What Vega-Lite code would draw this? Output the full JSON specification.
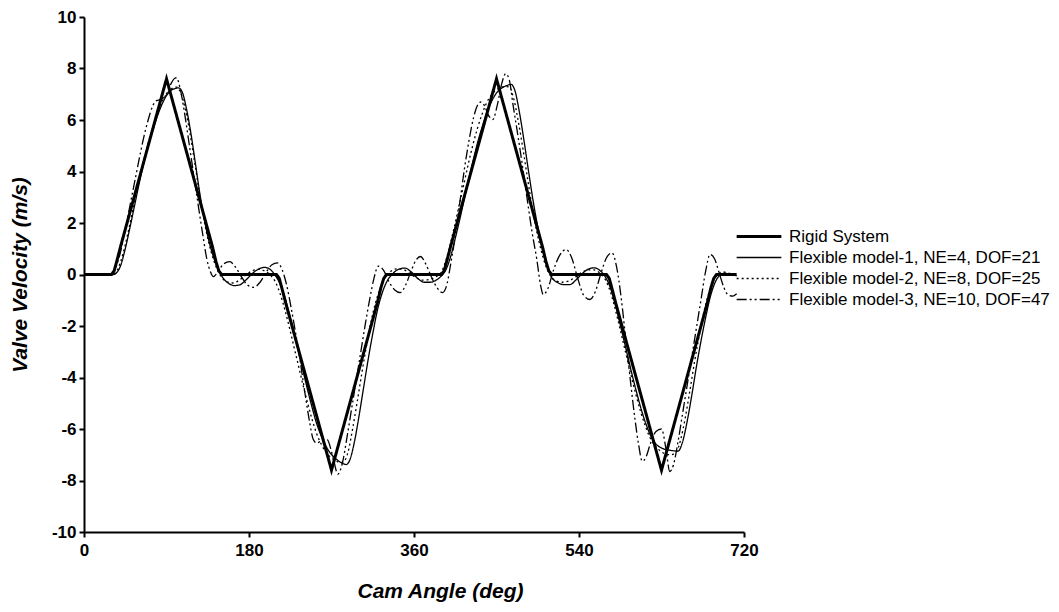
{
"$schema":"https://vega.github.io/schema/vega-lite/v6.json",
"width":660,"height":515,
"autosize":{"type":"none"},
"padding":{"left":84,"top":17,"right":315,"bottom":80},
"background":"white",
"datasets":{"d":[
{"a":0,"v":0,"s":"R"},{"a":30,"v":0,"s":"R"},{"a":33,"v":0.15,"s":"R"},{"a":36,"v":0.55,"s":"R"},{"a":40,"v":1.1,"s":"R"},{"a":90,"v":7.6,"s":"R"},{"a":140,"v":1.1,"s":"R"},{"a":144,"v":0.5,"s":"R"},{"a":147,"v":0.15,"s":"R"},{"a":150,"v":0,"s":"R"},{"a":210,"v":0,"s":"R"},{"a":213,"v":-0.15,"s":"R"},{"a":216,"v":-0.55,"s":"R"},{"a":220,"v":-1.1,"s":"R"},{"a":270,"v":-7.6,"s":"R"},{"a":320,"v":-1.1,"s":"R"},{"a":324,"v":-0.5,"s":"R"},{"a":327,"v":-0.15,"s":"R"},{"a":330,"v":0,"s":"R"},{"a":390,"v":0,"s":"R"},{"a":393,"v":0.15,"s":"R"},{"a":396,"v":0.55,"s":"R"},{"a":400,"v":1.1,"s":"R"},{"a":450,"v":7.6,"s":"R"},{"a":500,"v":1.1,"s":"R"},{"a":504,"v":0.5,"s":"R"},{"a":507,"v":0.15,"s":"R"},{"a":510,"v":0,"s":"R"},{"a":570,"v":0,"s":"R"},{"a":573,"v":-0.15,"s":"R"},{"a":576,"v":-0.55,"s":"R"},{"a":580,"v":-1.1,"s":"R"},{"a":630,"v":-7.6,"s":"R"},{"a":680,"v":-1.1,"s":"R"},{"a":684,"v":-0.5,"s":"R"},{"a":687,"v":-0.15,"s":"R"},{"a":690,"v":0,"s":"R"},{"a":712,"v":0,"s":"R"},

{"a":0,"v":0,"s":"F1"},{"a":32,"v":0,"s":"F1"},{"a":35,"v":0.05,"s":"F1"},{"a":40,"v":0.35,"s":"F1"},{"a":45,"v":1.0,"s":"F1"},{"a":50,"v":1.8,"s":"F1"},{"a":55,"v":2.65,"s":"F1"},{"a":60,"v":3.5,"s":"F1"},{"a":65,"v":4.3,"s":"F1"},{"a":70,"v":5.0,"s":"F1"},{"a":75,"v":5.6,"s":"F1"},{"a":80,"v":6.15,"s":"F1"},{"a":85,"v":6.6,"s":"F1"},{"a":90,"v":6.95,"s":"F1"},{"a":95,"v":7.15,"s":"F1"},{"a":100,"v":7.23,"s":"F1"},{"a":103,"v":7.25,"s":"F1"},{"a":107,"v":7.1,"s":"F1"},{"a":112,"v":6.4,"s":"F1"},{"a":117,"v":5.4,"s":"F1"},{"a":122,"v":4.2,"s":"F1"},{"a":127,"v":3.0,"s":"F1"},{"a":132,"v":2.0,"s":"F1"},{"a":137,"v":1.2,"s":"F1"},{"a":142,"v":0.6,"s":"F1"},{"a":147,"v":0.15,"s":"F1"},{"a":152,"v":-0.15,"s":"F1"},{"a":158,"v":-0.35,"s":"F1"},{"a":164,"v":-0.43,"s":"F1"},{"a":170,"v":-0.4,"s":"F1"},{"a":177,"v":-0.2,"s":"F1"},{"a":184,"v":0.05,"s":"F1"},{"a":190,"v":0.2,"s":"F1"},{"a":197,"v":0.28,"s":"F1"},{"a":203,"v":0.2,"s":"F1"},{"a":208,"v":0.0,"s":"F1"},{"a":213,"v":-0.3,"s":"F1"},{"a":218,"v":-0.75,"s":"F1"},{"a":223,"v":-1.4,"s":"F1"},{"a":228,"v":-2.1,"s":"F1"},{"a":233,"v":-2.85,"s":"F1"},{"a":238,"v":-3.6,"s":"F1"},{"a":243,"v":-4.35,"s":"F1"},{"a":248,"v":-5.05,"s":"F1"},{"a":253,"v":-5.7,"s":"F1"},{"a":258,"v":-6.2,"s":"F1"},{"a":263,"v":-6.6,"s":"F1"},{"a":268,"v":-6.9,"s":"F1"},{"a":273,"v":-7.1,"s":"F1"},{"a":278,"v":-7.25,"s":"F1"},{"a":283,"v":-7.35,"s":"F1"},{"a":286,"v":-7.38,"s":"F1"},{"a":290,"v":-7.2,"s":"F1"},{"a":295,"v":-6.5,"s":"F1"},{"a":300,"v":-5.5,"s":"F1"},{"a":305,"v":-4.4,"s":"F1"},{"a":310,"v":-3.3,"s":"F1"},{"a":315,"v":-2.3,"s":"F1"},{"a":320,"v":-1.4,"s":"F1"},{"a":325,"v":-0.75,"s":"F1"},{"a":330,"v":-0.3,"s":"F1"},{"a":336,"v":0.0,"s":"F1"},{"a":343,"v":0.2,"s":"F1"},{"a":350,"v":0.25,"s":"F1"},{"a":357,"v":0.1,"s":"F1"},{"a":364,"v":-0.15,"s":"F1"},{"a":371,"v":-0.3,"s":"F1"},{"a":378,"v":-0.3,"s":"F1"},{"a":385,"v":-0.2,"s":"F1"},{"a":390,"v":-0.05,"s":"F1"},{"a":395,"v":0.2,"s":"F1"},{"a":400,"v":0.7,"s":"F1"},{"a":405,"v":1.4,"s":"F1"},{"a":410,"v":2.15,"s":"F1"},{"a":415,"v":2.95,"s":"F1"},{"a":420,"v":3.75,"s":"F1"},{"a":425,"v":4.5,"s":"F1"},{"a":430,"v":5.2,"s":"F1"},{"a":435,"v":5.8,"s":"F1"},{"a":440,"v":6.35,"s":"F1"},{"a":445,"v":6.75,"s":"F1"},{"a":450,"v":7.05,"s":"F1"},{"a":455,"v":7.22,"s":"F1"},{"a":460,"v":7.32,"s":"F1"},{"a":466,"v":7.38,"s":"F1"},{"a":470,"v":7.15,"s":"F1"},{"a":475,"v":6.3,"s":"F1"},{"a":480,"v":5.2,"s":"F1"},{"a":485,"v":4.0,"s":"F1"},{"a":490,"v":2.85,"s":"F1"},{"a":495,"v":1.85,"s":"F1"},{"a":500,"v":1.0,"s":"F1"},{"a":505,"v":0.35,"s":"F1"},{"a":510,"v":-0.1,"s":"F1"},{"a":516,"v":-0.3,"s":"F1"},{"a":523,"v":-0.39,"s":"F1"},{"a":530,"v":-0.39,"s":"F1"},{"a":537,"v":-0.2,"s":"F1"},{"a":544,"v":0.05,"s":"F1"},{"a":551,"v":0.22,"s":"F1"},{"a":557,"v":0.26,"s":"F1"},{"a":563,"v":0.15,"s":"F1"},{"a":568,"v":-0.05,"s":"F1"},{"a":573,"v":-0.4,"s":"F1"},{"a":578,"v":-0.95,"s":"F1"},{"a":583,"v":-1.65,"s":"F1"},{"a":588,"v":-2.4,"s":"F1"},{"a":593,"v":-3.15,"s":"F1"},{"a":598,"v":-3.9,"s":"F1"},{"a":603,"v":-4.6,"s":"F1"},{"a":608,"v":-5.25,"s":"F1"},{"a":613,"v":-5.8,"s":"F1"},{"a":618,"v":-6.25,"s":"F1"},{"a":623,"v":-6.55,"s":"F1"},{"a":628,"v":-6.7,"s":"F1"},{"a":633,"v":-6.78,"s":"F1"},{"a":640,"v":-6.83,"s":"F1"},{"a":648,"v":-6.86,"s":"F1"},{"a":653,"v":-6.5,"s":"F1"},{"a":658,"v":-5.7,"s":"F1"},{"a":663,"v":-4.7,"s":"F1"},{"a":668,"v":-3.6,"s":"F1"},{"a":673,"v":-2.6,"s":"F1"},{"a":678,"v":-1.7,"s":"F1"},{"a":683,"v":-0.9,"s":"F1"},{"a":688,"v":-0.35,"s":"F1"},{"a":693,"v":-0.05,"s":"F1"},{"a":699,"v":0.05,"s":"F1"},{"a":705,"v":0.0,"s":"F1"},{"a":712,"v":-0.05,"s":"F1"},

{"a":0,"v":0,"s":"F2"},{"a":30,"v":0,"s":"F2"},{"a":35,"v":0.1,"s":"F2"},{"a":40,"v":0.5,"s":"F2"},{"a":45,"v":1.15,"s":"F2"},{"a":50,"v":1.95,"s":"F2"},{"a":55,"v":2.8,"s":"F2"},{"a":60,"v":3.6,"s":"F2"},{"a":65,"v":4.4,"s":"F2"},{"a":70,"v":5.1,"s":"F2"},{"a":75,"v":5.7,"s":"F2"},{"a":80,"v":6.25,"s":"F2"},{"a":85,"v":6.7,"s":"F2"},{"a":90,"v":7.0,"s":"F2"},{"a":95,"v":7.2,"s":"F2"},{"a":101,"v":7.28,"s":"F2"},{"a":106,"v":7.0,"s":"F2"},{"a":111,"v":6.35,"s":"F2"},{"a":116,"v":5.4,"s":"F2"},{"a":121,"v":4.3,"s":"F2"},{"a":126,"v":3.15,"s":"F2"},{"a":131,"v":2.1,"s":"F2"},{"a":136,"v":1.25,"s":"F2"},{"a":141,"v":0.6,"s":"F2"},{"a":146,"v":0.15,"s":"F2"},{"a":151,"v":-0.15,"s":"F2"},{"a":157,"v":-0.3,"s":"F2"},{"a":163,"v":-0.33,"s":"F2"},{"a":170,"v":-0.2,"s":"F2"},{"a":177,"v":0.0,"s":"F2"},{"a":184,"v":0.15,"s":"F2"},{"a":191,"v":0.2,"s":"F2"},{"a":198,"v":0.12,"s":"F2"},{"a":204,"v":-0.05,"s":"F2"},{"a":209,"v":-0.3,"s":"F2"},{"a":214,"v":-0.75,"s":"F2"},{"a":219,"v":-1.35,"s":"F2"},{"a":224,"v":-2.05,"s":"F2"},{"a":229,"v":-2.8,"s":"F2"},{"a":234,"v":-3.55,"s":"F2"},{"a":239,"v":-4.3,"s":"F2"},{"a":244,"v":-5.0,"s":"F2"},{"a":249,"v":-5.65,"s":"F2"},{"a":254,"v":-6.2,"s":"F2"},{"a":259,"v":-6.6,"s":"F2"},{"a":264,"v":-6.9,"s":"F2"},{"a":269,"v":-7.1,"s":"F2"},{"a":274,"v":-7.22,"s":"F2"},{"a":279,"v":-7.3,"s":"F2"},{"a":283,"v":-7.28,"s":"F2"},{"a":288,"v":-6.9,"s":"F2"},{"a":293,"v":-6.0,"s":"F2"},{"a":298,"v":-4.95,"s":"F2"},{"a":303,"v":-3.85,"s":"F2"},{"a":308,"v":-2.8,"s":"F2"},{"a":313,"v":-1.85,"s":"F2"},{"a":318,"v":-1.1,"s":"F2"},{"a":323,"v":-0.55,"s":"F2"},{"a":328,"v":-0.15,"s":"F2"},{"a":334,"v":0.1,"s":"F2"},{"a":341,"v":0.22,"s":"F2"},{"a":348,"v":0.2,"s":"F2"},{"a":355,"v":0.05,"s":"F2"},{"a":362,"v":-0.12,"s":"F2"},{"a":369,"v":-0.22,"s":"F2"},{"a":376,"v":-0.2,"s":"F2"},{"a":383,"v":-0.1,"s":"F2"},{"a":389,"v":0.05,"s":"F2"},{"a":394,"v":0.45,"s":"F2"},{"a":399,"v":1.1,"s":"F2"},{"a":404,"v":1.85,"s":"F2"},{"a":409,"v":2.65,"s":"F2"},{"a":414,"v":3.45,"s":"F2"},{"a":419,"v":4.25,"s":"F2"},{"a":424,"v":5.0,"s":"F2"},{"a":429,"v":5.65,"s":"F2"},{"a":434,"v":6.2,"s":"F2"},{"a":439,"v":6.65,"s":"F2"},{"a":444,"v":6.95,"s":"F2"},{"a":449,"v":7.15,"s":"F2"},{"a":454,"v":7.25,"s":"F2"},{"a":460,"v":7.3,"s":"F2"},{"a":464,"v":7.28,"s":"F2"},{"a":469,"v":6.8,"s":"F2"},{"a":474,"v":5.9,"s":"F2"},{"a":479,"v":4.85,"s":"F2"},{"a":484,"v":3.7,"s":"F2"},{"a":489,"v":2.6,"s":"F2"},{"a":494,"v":1.65,"s":"F2"},{"a":499,"v":0.9,"s":"F2"},{"a":504,"v":0.3,"s":"F2"},{"a":509,"v":-0.05,"s":"F2"},{"a":515,"v":-0.25,"s":"F2"},{"a":522,"v":-0.3,"s":"F2"},{"a":529,"v":-0.25,"s":"F2"},{"a":536,"v":-0.1,"s":"F2"},{"a":543,"v":0.08,"s":"F2"},{"a":550,"v":0.18,"s":"F2"},{"a":556,"v":0.18,"s":"F2"},{"a":562,"v":0.08,"s":"F2"},{"a":567,"v":-0.1,"s":"F2"},{"a":572,"v":-0.45,"s":"F2"},{"a":577,"v":-1.0,"s":"F2"},{"a":582,"v":-1.7,"s":"F2"},{"a":587,"v":-2.45,"s":"F2"},{"a":592,"v":-3.2,"s":"F2"},{"a":597,"v":-3.95,"s":"F2"},{"a":602,"v":-4.65,"s":"F2"},{"a":607,"v":-5.3,"s":"F2"},{"a":612,"v":-5.85,"s":"F2"},{"a":617,"v":-6.3,"s":"F2"},{"a":622,"v":-6.6,"s":"F2"},{"a":627,"v":-6.8,"s":"F2"},{"a":633,"v":-6.95,"s":"F2"},{"a":640,"v":-7.0,"s":"F2"},{"a":646,"v":-6.9,"s":"F2"},{"a":651,"v":-6.4,"s":"F2"},{"a":656,"v":-5.55,"s":"F2"},{"a":661,"v":-4.5,"s":"F2"},{"a":666,"v":-3.4,"s":"F2"},{"a":671,"v":-2.4,"s":"F2"},{"a":676,"v":-1.5,"s":"F2"},{"a":681,"v":-0.8,"s":"F2"},{"a":686,"v":-0.3,"s":"F2"},{"a":691,"v":0.0,"s":"F2"},{"a":697,"v":0.1,"s":"F2"},{"a":703,"v":0.05,"s":"F2"},{"a":712,"v":0.0,"s":"F2"},

{"a":0,"v":0,"s":"F3"},{"a":28,"v":0,"s":"F3"},{"a":32,"v":0.1,"s":"F3"},{"a":35,"v":0.3,"s":"F3"},{"a":40,"v":0.9,"s":"F3"},{"a":45,"v":1.75,"s":"F3"},{"a":50,"v":2.65,"s":"F3"},{"a":55,"v":3.55,"s":"F3"},{"a":60,"v":4.45,"s":"F3"},{"a":65,"v":5.3,"s":"F3"},{"a":70,"v":6.0,"s":"F3"},{"a":75,"v":6.55,"s":"F3"},{"a":79,"v":6.75,"s":"F3"},{"a":84,"v":6.8,"s":"F3"},{"a":89,"v":6.95,"s":"F3"},{"a":94,"v":7.35,"s":"F3"},{"a":99,"v":7.62,"s":"F3"},{"a":101,"v":7.64,"s":"F3"},{"a":105,"v":7.2,"s":"F3"},{"a":110,"v":6.2,"s":"F3"},{"a":115,"v":5.0,"s":"F3"},{"a":120,"v":3.8,"s":"F3"},{"a":125,"v":2.6,"s":"F3"},{"a":130,"v":1.45,"s":"F3"},{"a":134,"v":0.6,"s":"F3"},{"a":138,"v":0.1,"s":"F3"},{"a":141,"v":-0.08,"s":"F3"},{"a":146,"v":0.1,"s":"F3"},{"a":152,"v":0.4,"s":"F3"},{"a":159,"v":0.5,"s":"F3"},{"a":165,"v":0.3,"s":"F3"},{"a":172,"v":-0.1,"s":"F3"},{"a":178,"v":-0.4,"s":"F3"},{"a":185,"v":-0.5,"s":"F3"},{"a":192,"v":-0.3,"s":"F3"},{"a":199,"v":0.1,"s":"F3"},{"a":205,"v":0.38,"s":"F3"},{"a":211,"v":0.45,"s":"F3"},{"a":216,"v":0.2,"s":"F3"},{"a":221,"v":-0.4,"s":"F3"},{"a":226,"v":-1.3,"s":"F3"},{"a":231,"v":-2.3,"s":"F3"},{"a":236,"v":-3.4,"s":"F3"},{"a":241,"v":-4.6,"s":"F3"},{"a":246,"v":-5.7,"s":"F3"},{"a":250,"v":-6.4,"s":"F3"},{"a":254,"v":-6.55,"s":"F3"},{"a":259,"v":-6.45,"s":"F3"},{"a":265,"v":-6.4,"s":"F3"},{"a":271,"v":-7.0,"s":"F3"},{"a":277,"v":-7.75,"s":"F3"},{"a":282,"v":-7.3,"s":"F3"},{"a":287,"v":-6.3,"s":"F3"},{"a":292,"v":-5.2,"s":"F3"},{"a":297,"v":-4.1,"s":"F3"},{"a":302,"v":-3.0,"s":"F3"},{"a":307,"v":-1.9,"s":"F3"},{"a":312,"v":-0.9,"s":"F3"},{"a":316,"v":-0.2,"s":"F3"},{"a":321,"v":0.32,"s":"F3"},{"a":327,"v":0.15,"s":"F3"},{"a":333,"v":-0.3,"s":"F3"},{"a":339,"v":-0.6,"s":"F3"},{"a":345,"v":-0.7,"s":"F3"},{"a":351,"v":-0.4,"s":"F3"},{"a":357,"v":0.15,"s":"F3"},{"a":362,"v":0.55,"s":"F3"},{"a":367,"v":0.7,"s":"F3"},{"a":373,"v":0.4,"s":"F3"},{"a":379,"v":-0.1,"s":"F3"},{"a":385,"v":-0.5,"s":"F3"},{"a":391,"v":-0.7,"s":"F3"},{"a":395,"v":-0.5,"s":"F3"},{"a":400,"v":0.4,"s":"F3"},{"a":405,"v":1.5,"s":"F3"},{"a":410,"v":2.8,"s":"F3"},{"a":415,"v":4.1,"s":"F3"},{"a":420,"v":5.2,"s":"F3"},{"a":425,"v":6.1,"s":"F3"},{"a":429,"v":6.55,"s":"F3"},{"a":433,"v":6.7,"s":"F3"},{"a":437,"v":6.55,"s":"F3"},{"a":441,"v":6.2,"s":"F3"},{"a":446,"v":6.02,"s":"F3"},{"a":451,"v":6.6,"s":"F3"},{"a":456,"v":7.45,"s":"F3"},{"a":460,"v":7.8,"s":"F3"},{"a":464,"v":7.55,"s":"F3"},{"a":468,"v":6.6,"s":"F3"},{"a":472,"v":5.7,"s":"F3"},{"a":478,"v":4.3,"s":"F3"},{"a":484,"v":2.8,"s":"F3"},{"a":489,"v":1.6,"s":"F3"},{"a":494,"v":0.58,"s":"F3"},{"a":498,"v":-0.4,"s":"F3"},{"a":501,"v":-0.78,"s":"F3"},{"a":506,"v":-0.55,"s":"F3"},{"a":512,"v":0.15,"s":"F3"},{"a":519,"v":0.75,"s":"F3"},{"a":526,"v":0.97,"s":"F3"},{"a":532,"v":0.65,"s":"F3"},{"a":539,"v":-0.2,"s":"F3"},{"a":545,"v":-0.8,"s":"F3"},{"a":552,"v":-0.97,"s":"F3"},{"a":558,"v":-0.65,"s":"F3"},{"a":564,"v":0.05,"s":"F3"},{"a":570,"v":0.65,"s":"F3"},{"a":576,"v":0.84,"s":"F3"},{"a":581,"v":0.3,"s":"F3"},{"a":586,"v":-0.9,"s":"F3"},{"a":591,"v":-2.5,"s":"F3"},{"a":596,"v":-4.1,"s":"F3"},{"a":601,"v":-5.6,"s":"F3"},{"a":605,"v":-6.6,"s":"F3"},{"a":609,"v":-7.25,"s":"F3"},{"a":613,"v":-7.1,"s":"F3"},{"a":618,"v":-6.55,"s":"F3"},{"a":624,"v":-6.1,"s":"F3"},{"a":630,"v":-6.0,"s":"F3"},{"a":635,"v":-6.8,"s":"F3"},{"a":639,"v":-7.65,"s":"F3"},{"a":643,"v":-7.4,"s":"F3"},{"a":648,"v":-6.5,"s":"F3"},{"a":653,"v":-5.4,"s":"F3"},{"a":658,"v":-4.3,"s":"F3"},{"a":663,"v":-3.2,"s":"F3"},{"a":668,"v":-2.1,"s":"F3"},{"a":673,"v":-1.0,"s":"F3"},{"a":678,"v":0.1,"s":"F3"},{"a":683,"v":0.78,"s":"F3"},{"a":688,"v":0.6,"s":"F3"},{"a":693,"v":0.05,"s":"F3"},{"a":698,"v":-0.5,"s":"F3"},{"a":703,"v":-0.8,"s":"F3"},{"a":708,"v":-0.84,"s":"F3"},{"a":712,"v":-0.75,"s":"F3"}
]},
"data":{"name":"d"},
"encoding":{
 "x":{"field":"a","type":"quantitative","scale":{"domain":[0,720],"nice":false},"axis":{"values":[0,180,360,540,720],"title":"Cam Angle (deg)","titleX":356,"titleY":59,"titleBaseline":"middle","titleAlign":"center"}},
 "y":{"field":"v","type":"quantitative","scale":{"domain":[-10,10],"nice":false},"axis":{"values":[-10,-8,-6,-4,-2,0,2,4,6,8,10],"labelExpr":"'' + datum.value","title":"Valve Velocity (m/s)","titleX":-64,"titleY":257.5,"titleBaseline":"middle","titleAlign":"center","titleAngle":270}},
 "strokeDash":{"field":"s","type":"nominal","scale":{"domain":["R","F1","F2","F3"],"range":[[1,0],[1,0],[2,3],[10,3,2,3,2,3]]},"legend":{"title":null,"labelExpr":"datum.label == 'R' ? 'Rigid System' : datum.label == 'F1' ? 'Flexible model-1, NE=4, DOF=21' : datum.label == 'F2' ? 'Flexible model-2, NE=8, DOF=25' : 'Flexible model-3, NE=10, DOF=47'"}},
 "strokeWidth":{"field":"s","type":"nominal","scale":{"type":"ordinal","domain":["R","F1","F2","F3"],"range":[3,1.3,1.3,1.3]},"legend":{"title":null,"labelExpr":"datum.label == 'R' ? 'Rigid System' : datum.label == 'F1' ? 'Flexible model-1, NE=4, DOF=21' : datum.label == 'F2' ? 'Flexible model-2, NE=8, DOF=25' : 'Flexible model-3, NE=10, DOF=47'"}},
 "color":{"value":"black"}
},
"layer":[
 {"transform":[{"filter":"datum.s != 'R'"}],"mark":{"type":"line","interpolate":"monotone"}},
 {"transform":[{"filter":"datum.s == 'R'"}],"mark":{"type":"line","interpolate":"linear","strokeJoin":"miter"}}
],
"config":{
 "view":{"stroke":null},
 "font":"Liberation Sans",
 "axis":{"grid":false,"labelFlush":false,"domainColor":"black","domainWidth":2,"tickColor":"black","tickWidth":2,"tickSize":5,"labelFont":"Liberation Sans","labelFontSize":17,"labelFontWeight":"bold","labelColor":"black","titleFont":"Liberation Sans","titleFontSize":21,"titleFontWeight":"bold","titleFontStyle":"italic","titleColor":"black"},
 "axisX":{"labelPadding":5},
 "axisY":{"labelPadding":3},
 "legend":{"orient":"none","legendX":651,"legendY":209,"symbolType":"stroke","symbolSize":2000,"symbolStrokeColor":"black","labelFont":"Liberation Sans","labelFontSize":17,"labelColor":"black","labelOffset":6,"labelLimit":400,"rowPadding":0,"clipHeight":21}
}
}
